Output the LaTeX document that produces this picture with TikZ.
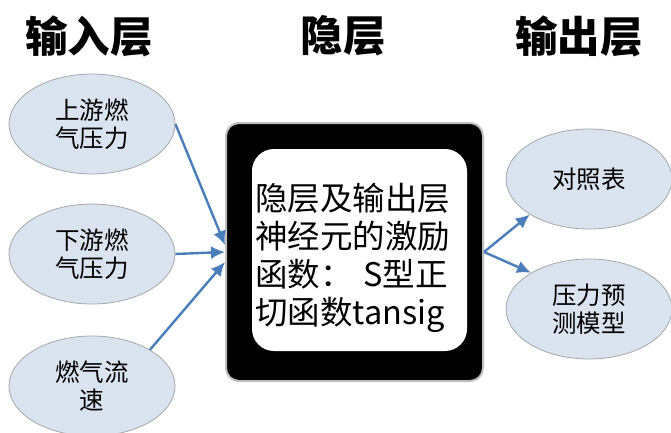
\documentclass[tikz,border=0pt]{standalone}
\usepackage{fontspec}
\setmainfont{Noto Sans CJK SC}
\usetikzlibrary{shapes.geometric,arrows.meta}
\definecolor{ellfill}{HTML}{DAE3F0}
\definecolor{ellline}{HTML}{A6A6A6}
\definecolor{arr}{HTML}{4A7EBB}
\tikzset{
  ell/.style={ellipse, draw=ellline, line width=0.8pt, fill=ellfill, minimum width=166pt, minimum height=100pt, inner sep=0pt, align=center, font=\fontsize{24.5}{28}\selectfont},
  title/.style={font=\fontsize{42.5}{46}\selectfont\bfseries, inner sep=0pt},
  conn/.style={draw=arr, line width=2.4pt, -{Latex[length=14pt,width=13pt]}},
}
\begin{document}
\begin{tikzpicture}[x=1pt,y=-1pt]
\useasboundingbox (0,0) rectangle (671,433);
\node[title] (t1) at (89,36) {输入层};
\node[title] (t2) at (343,36) {隐层};
\node[title] (t3) at (579,36) {输出层};

\node[ell] (e1) at (92,124) {上游燃\\气压力};
\node[ell] (e2) at (92,254) {下游燃\\气压力};
\node[ell] (e3) at (92,386) {燃气流\\速};

\node[ell] (o1) at (589,179) {对照表};
\node[ell] (o2) at (589,309) {压力预\\测模型};

\node[draw=black!25, line width=2pt, fill=black, rounded corners=13pt, minimum width=257pt, minimum height=258pt] (hid) at (354.5,252) {};
\node[fill=white, rounded corners=22pt, minimum width=215pt, minimum height=202pt, inner sep=0pt] (inner) at (359.5,250) {};
\node[text width=200pt, align=left, inner sep=0pt, font=\fontsize{32.5}{38}\selectfont] (txt) at (355,258) {隐层及输出层\\神经元的激励\\函数： S型正\\切函数tansig};

\draw[conn] (e1.east) -- ([yshift=7pt]hid.west);
\draw[conn] (e2.east) -- (hid.west);
\draw[conn] (e3.32) -- ([yshift=-10pt]hid.west);
\draw[conn] (hid.east) -- (o1.211);
\draw[conn] (hid.east) -- (o2.148);
\end{tikzpicture}
\end{document}
